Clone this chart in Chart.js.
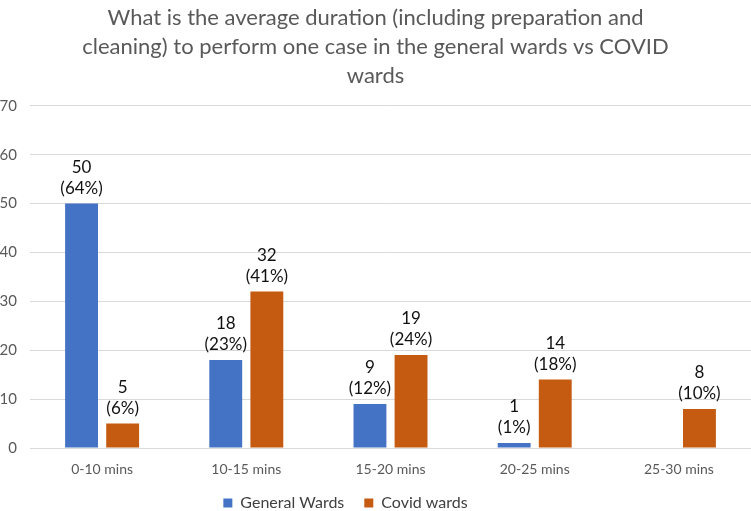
<!DOCTYPE html>
<html>
<head>
<meta charset="utf-8">
<script src="https://cdn.jsdelivr.net/npm/chart.js@4/dist/chart.umd.min.js"></script>
<style>
  html, body { margin: 0; padding: 0; background: #ffffff; }
  #wrap { width: 751px; height: 511px; }
</style>
</head>
<body>
<div id="wrap"><canvas id="chart" width="751" height="511"></canvas></div>
<script>
var categories = ["0-10 mins", "10-15 mins", "15-20 mins", "20-25 mins", "25-30 mins"];
var generalWards = [50, 18, 9, 1, null];
var covidWards = [5, 32, 19, 14, 8];
var generalPct = ["(64%)", "(23%)", "(12%)", "(1%)", null];
var covidPct = ["(6%)", "(41%)", "(24%)", "(18%)", "(10%)"];
var yTicks = [0, 10, 20, 30, 40, 50, 60, 70];

var FONT = "Lato, 'Open Sans', sans-serif";
var LEGEND_PAD = 20;
var LEGEND_H = 20;

// two-line labels above each bar: value, then percentage
var barLabels = {
    id: "barLabels",
    afterDatasetsDraw: function(chart){
        var ctx = chart.ctx;
        ctx.save();
        ctx.fillStyle = "#111111";
        ctx.font = "17px " + FONT;
        ctx.textAlign = "center";
        ctx.textBaseline = "alphabetic";
        chart.data.datasets.forEach(function(ds, i){
            var meta = chart.getDatasetMeta(i);
            meta.data.forEach(function(bar, j){
                if (ds.data[j] === null) return;
                ctx.fillText(ds.pctLabels[j], bar.x, bar.y - 10);
                ctx.fillText(String(ds.data[j]), bar.x, bar.y - 31);
            });
        });
        ctx.restore();
    }
};

// legend: keep its reserved height small, then put it a bit left of centre near the bottom edge
var legendPlace = {
    id: "legendPlace",
    beforeLayout: function(chart){
        var lg = chart.legend;
        if (lg && !lg._fitPatched){
            var orig = lg.fit;
            lg.fit = function(){
                orig.apply(this, arguments);
                this.height = LEGEND_H;
            };
            lg._fitPatched = true;
        }
    },
    afterLayout: function(chart){
        var lg = chart.legend;
        lg.left -= 30;
        lg.right -= 30;
        lg.top = 503 - LEGEND_PAD - 8;
        lg.bottom = chart.height + 40;
        lg.height = lg.bottom - lg.top;
    }
};

var ctx = document.getElementById("chart").getContext("2d");
var chart = new Chart(ctx, {
    type: "bar",
    data: {
        labels: categories,
        datasets: [
            {
                label: "General Wards",
                data: generalWards,
                pctLabels: generalPct,
                backgroundColor: "#4472C4",
                categoryPercentage: 0.57,
                barPercentage: 0.8
            },
            {
                label: "Covid wards",
                data: covidWards,
                pctLabels: covidPct,
                backgroundColor: "#C55A11",
                categoryPercentage: 0.57,
                barPercentage: 0.8
            }
        ]
    },
    options: {
        responsive: false,
        animation: false,
        layout: { padding: { left: 0, right: 0, top: 0, bottom: 0 } },
        plugins: {
            title: {
                display: true,
                text: [
                    "What is the average duration (including preparation and",
                    "cleaning) to perform one case in the general wards vs COVID",
                    "wards"
                ],
                color: "#595959",
                font: { family: FONT, size: 22, weight: "normal", lineHeight: 1.3 },
                padding: { top: 4, bottom: 16 }
            },
            legend: {
                position: "bottom",
                labels: {
                    color: "#404040",
                    font: { family: FONT, size: 16 },
                    boxWidth: 9,
                    boxHeight: 9,
                    padding: LEGEND_PAD
                }
            },
            tooltip: { enabled: false }
        },
        scales: {
            x: {
                // keep the plot bottom where the original has it
                afterFit: function(scale){ scale.height = 511 - 448 - LEGEND_H; },
                grid: { display: false, drawTicks: false },
                border: { color: "#d9d9d9" },
                ticks: {
                    color: "#595959",
                    font: { family: FONT, size: 14 },
                    padding: 13
                }
            },
            y: {
                min: 0,
                max: 70,
                afterFit: function(scale){ scale.width = 30; },
                afterBuildTicks: function(scale){
                    scale.ticks = yTicks.map(function(v){ return { value: v }; });
                },
                grid: { color: "#d9d9d9", drawTicks: false },
                border: { display: false },
                ticks: {
                    color: "#595959",
                    font: { family: FONT, size: 15 },
                    padding: 13
                }
            }
        }
    },
    plugins: [barLabels, legendPlace]
});
</script>
</body>
</html>
